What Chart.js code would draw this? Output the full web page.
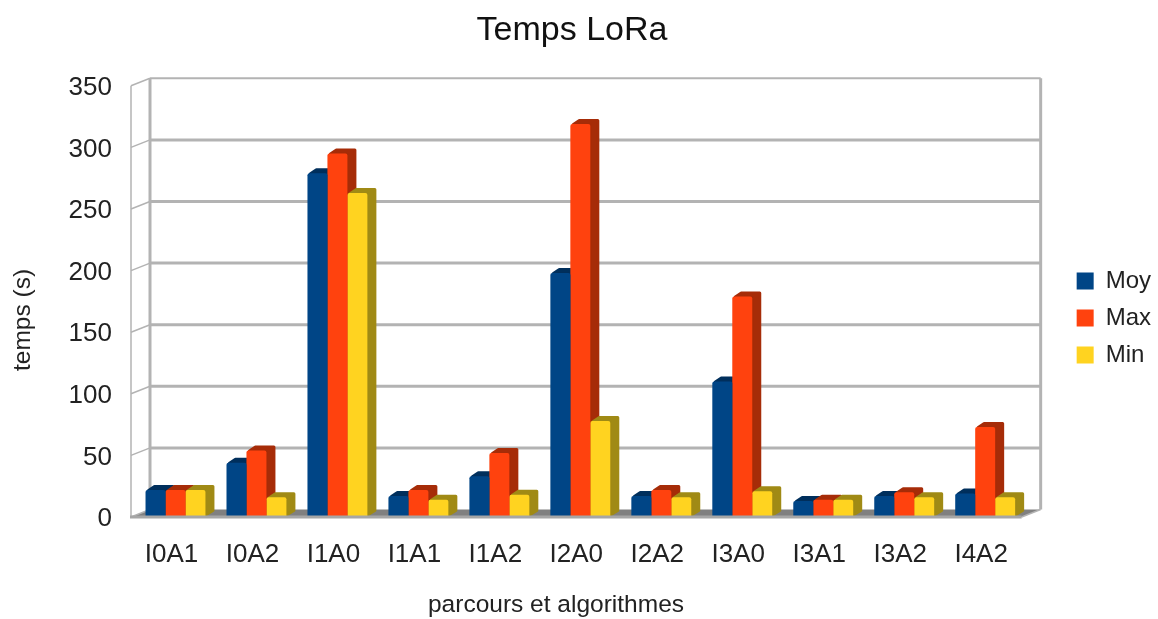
<!DOCTYPE html>
<html><head><meta charset="utf-8">
<style>html,body{margin:0;padding:0;background:#fff}#w{width:1158px;height:619px;position:relative}canvas{filter:blur(0.6px)}</style>
<script src="https://cdn.jsdelivr.net/npm/chart.js@4"></script>
</head><body><div id="w"><canvas id="c"></canvas></div>
<script>
const categories=["I0A1","I0A2","I1A0","I1A1","I1A2","I2A0","I2A2","I3A0","I3A1","I3A2","I4A2"];
const moy=[22,44,279,17,33,198,17,110,13,17,19];
const max=[22,54,295,22,52,319,22,179,14,20,73];
const min=[22,16,263,14,18,78,16,21,14,16,16];
const xTitle='parcours et algorithmes';
const yTitle='temps (s)';
const FONT='"Liberation Sans"';
const frontCol=['#004586','#ff420e','#ffd320'];
const sideCol=['#002f5c','#a62c08','#a08a15'];
const WALL={dx:19,dy:7.5}, BAR={dx:9,dy:5}, BAR_SHIFT=4;
let shifted=false;
const scene={id:'scene',
 afterLayout(ch){ch.titleBlock.left-=17;},
 afterDatasetsUpdate(ch){
  for(let i=0;i<3;i++)ch.getDatasetMeta(i).data.forEach(b=>{b.x+=BAR_SHIFT;});
 },
 beforeDraw(ch){
  if(shifted)return;shifted=true;
  ch.scales.y.getLabelItems().forEach(i=>{i.options.translation[1]+=2;});
 },
 beforeDatasetsDraw(ch){
  const g=ch.ctx,a=ch.chartArea,y=ch.scales.y;
  g.save();
  g.strokeStyle='#b3b3b3';
  g.fillStyle='#808080';
  g.beginPath();g.moveTo(a.left,a.bottom);g.lineTo(a.right,a.bottom);g.lineTo(a.right+WALL.dx,a.bottom-WALL.dy);g.lineTo(a.left+WALL.dx,a.bottom-WALL.dy);g.closePath();g.fill();
  y.ticks.forEach(t=>{
    const p=y.getPixelForValue(t.value);
    g.lineWidth=1.5;g.beginPath();g.moveTo(a.left,p);g.lineTo(a.left+WALL.dx,p-WALL.dy);g.stroke();
    if(t.value>0){g.lineWidth=t.value===350?2:3;g.beginPath();g.moveTo(a.left+WALL.dx,p-WALL.dy);g.lineTo(a.right+WALL.dx,p-WALL.dy);g.stroke();}
  });
  g.lineWidth=1.5;g.beginPath();g.moveTo(a.left,a.top);g.lineTo(a.left,a.bottom);g.stroke();
  g.lineWidth=3;g.beginPath();
  g.moveTo(a.left+WALL.dx,a.top-WALL.dy);g.lineTo(a.left+WALL.dx,a.bottom-WALL.dy);
  g.moveTo(a.right+WALL.dx,a.top-WALL.dy);g.lineTo(a.right+WALL.dx,a.bottom-WALL.dy);g.stroke();
  g.lineWidth=1.5;g.beginPath();g.moveTo(a.right,a.bottom);g.lineTo(a.right+WALL.dx,a.bottom-WALL.dy);g.stroke();
  g.lineJoin='round';g.lineWidth=3;
  const n=categories.length;
  for(let j=0;j<n;j++)for(let i=0;i<3;i++){
    const b=ch.getDatasetMeta(i).data[j],L=b.x-b.width/2,R=b.x+b.width/2,T=b.y,B=b.base;
    g.fillStyle=g.strokeStyle=sideCol[i];
    g.beginPath();g.moveTo(L+3,T+0.5);g.lineTo(L+BAR.dx,T-BAR.dy+1.5);g.lineTo(R+BAR.dx-1.5,T-BAR.dy+1.5);g.lineTo(R+BAR.dx-1.5,B-BAR.dy-1.5);g.lineTo(R,B-2);g.lineTo(R,T+1);g.closePath();g.fill();g.stroke();
  }
  g.restore();
 },
 afterDatasetsDraw(ch){
  const g=ch.ctx,a=ch.chartArea;
  g.save();g.strokeStyle='#a6a6a6';g.lineWidth=3;
  g.beginPath();g.moveTo(a.left-1,a.bottom);g.lineTo(a.right,a.bottom);g.stroke();
  g.restore();
 },
 afterDraw(ch){
  const g=ch.ctx;
  g.save();g.fillStyle='#222';g.textAlign='center';g.textBaseline='middle';
  g.font='24.5px '+FONT;
  g.fillText(xTitle,556,605);
  g.translate(23,320);g.rotate(-Math.PI/2);g.fillText(yTitle,0,0);
  g.restore();
 }};
const barStyle={borderRadius:{topLeft:2,topRight:2,bottomLeft:0,bottomRight:0},borderSkipped:false};
new Chart(document.getElementById('c'),{
 type:'bar',
 data:{labels:categories,datasets:[
  {label:'Moy',data:moy,backgroundColor:frontCol[0],...barStyle},
  {label:'Max',data:max,backgroundColor:frontCol[1],...barStyle},
  {label:'Min',data:min,backgroundColor:frontCol[2],...barStyle}]},
 options:{responsive:true,maintainAspectRatio:false,animation:false,
  layout:{padding:{left:0,right:-3,top:17,bottom:0}},
  categoryPercentage:0.74,barPercentage:1,
  plugins:{
   title:{display:true,text:'Temps LoRa',color:'#111',font:{family:FONT,size:34,weight:'normal'},padding:{top:-7,bottom:35}},
   legend:{position:'right',align:'center',labels:{boxWidth:17,boxHeight:17,padding:13,color:'#222',font:{family:FONT,size:24}}},
   tooltip:{enabled:false}},
  scales:{
   x:{grid:{display:false},border:{display:false},
      ticks:{color:'#222',font:{family:FONT,size:26},padding:14,maxRotation:0,autoSkip:false},
      afterFit(s){s.height=102;}},
   y:{min:0,max:350,grid:{display:false},border:{display:false},
      ticks:{stepSize:50,color:'#222',font:{family:FONT,size:26},padding:11},
      afterFit(s){s.width=131;}},
   gap:{position:'right',display:true,grid:{display:false},border:{display:false},ticks:{display:false},afterFit(s){s.width=42;}}
  }},
 plugins:[scene]});
</script></body></html>
